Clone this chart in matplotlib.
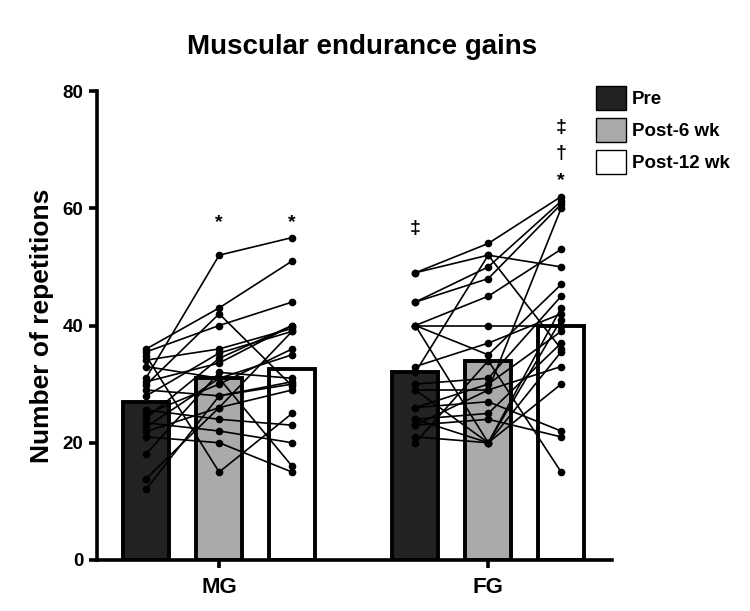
import numpy as np
import matplotlib
matplotlib.use("Agg")
from matplotlib import pyplot as plt
from matplotlib.patches import Patch

plt.rcParams['font.family'] = ['Liberation Sans', 'DejaVu Sans']
plt.rcParams['font.weight'] = 'bold'

groups = ['MG', 'FG']
phases = ['Pre', 'Post-6 wk', 'Post-12 wk']
colors = ['#222222', '#aaaaaa', '#ffffff']

# bar heights (group means)
mg_means = [27, 31, 32.5]
fg_means = [32, 34, 40]

# individual subjects: pre, post-6 wk, post-12 wk
mg_pre = [36, 35.5, 34.8, 34.1, 33, 31.1, 30.4, 29.9, 29, 28, 25.6, 24.9, 24.2, 23.4, 22.7, 21.9, 21, 18.1, 13.9, 12.1]
mg_post6 = [43, 40, 15, 36, 31, 52, 33.6, 42, 28, 35.3, 24, 30, 34.4, 22, 31, 26, 20, 32, 26, 28]
mg_post12 = [51, 44, 25, 39.5, 16, 55, 40, 29.7, 30.4, 39, 23, 36, 40, 20, 35, 29, 15, 31, 39, 30]

fg_pre = [49, 49, 44, 44, 40, 40, 40, 40, 33, 32, 30, 29, 29, 26, 26, 24, 24, 23, 23, 21, 20]
fg_post6 = [54, 52, 50, 48, 45, 40, 20, 35, 37, 52, 31, 29, 20, 30, 27, 25, 20, 29, 24, 20, 34]
fg_post12 = [62, 50, 61.2, 60.7, 53, 40, 43, 47, 42, 36, 45, 60, 41, 39, 22, 37, 35.5, 33, 21, 30, 15]

# significance marks: (group, phase, y, text)
marks = [(0, 1, 57.5, '*'), (0, 2, 57.5, '*'),
         (1, 0, 56.5, '‡'),
         (1, 2, 64.8, '*'), (1, 2, 69.3, '†'), (1, 2, 73.8, '‡')]

fig = plt.figure(figsize=(7.5, 6.11), dpi=100)
ax = fig.add_axes([0.129, 0.0835, 0.687, 0.7675])

offsets = np.array([-0.271, 0.0, 0.271])
width = 0.171
centers = np.array([0.0, 1.0])

all_means = [mg_means, fg_means]
all_data = [np.array([mg_pre, mg_post6, mg_post12]),
            np.array([fg_pre, fg_post6, fg_post12])]

for g, c in enumerate(centers):
    xs = c + offsets
    ax.bar(xs, all_means[g], width=width, color=colors, edgecolor='black',
           linewidth=2.8, zorder=1)
    data = all_data[g]
    for s in range(data.shape[1]):
        ax.plot(xs, data[:, s], color='black', linewidth=1.2,
                marker='o', markersize=4.5, zorder=3)

for g, p, yv, txt in marks:
    ax.text(centers[g] + offsets[p], yv, txt, ha='center', va='center',
            fontsize=14, fontweight='bold', clip_on=False)

ax.set_xlim(-0.455, 1.46)
ax.set_ylim(0, 80)
ax.set_yticks([0, 20, 40, 60, 80])
ax.set_xticks(centers)
ax.set_xticklabels(groups)
ax.spines['top'].set_visible(False)
ax.spines['right'].set_visible(False)
ax.spines['left'].set_linewidth(2.6)
ax.spines['bottom'].set_linewidth(2.6)
ax.tick_params(axis='y', width=2.6, length=6, labelsize=13.5)
ax.tick_params(axis='x', width=2.6, length=6, labelsize=16, pad=6)
for lab in ax.get_xticklabels() + ax.get_yticklabels():
    lab.set_fontweight('bold')
ax.set_ylabel('Number of repetitions', fontsize=19, fontweight='bold', labelpad=6)

fig.text(0.483, 0.923, 'Muscular endurance gains', ha='center', va='center',
         fontsize=20, fontweight='bold')

handles = [Patch(facecolor=col, edgecolor='black', linewidth=1.0) for col in colors]
fig.legend(handles, phases, loc='upper left', bbox_to_anchor=(0.785, 0.872),
           frameon=False, prop={'weight': 'bold', 'size': 13.5},
           handlelength=1.6, handleheight=1.6, labelspacing=0.42,
           handletextpad=0.3, borderaxespad=0)

fig.savefig('out.png', dpi=100)
